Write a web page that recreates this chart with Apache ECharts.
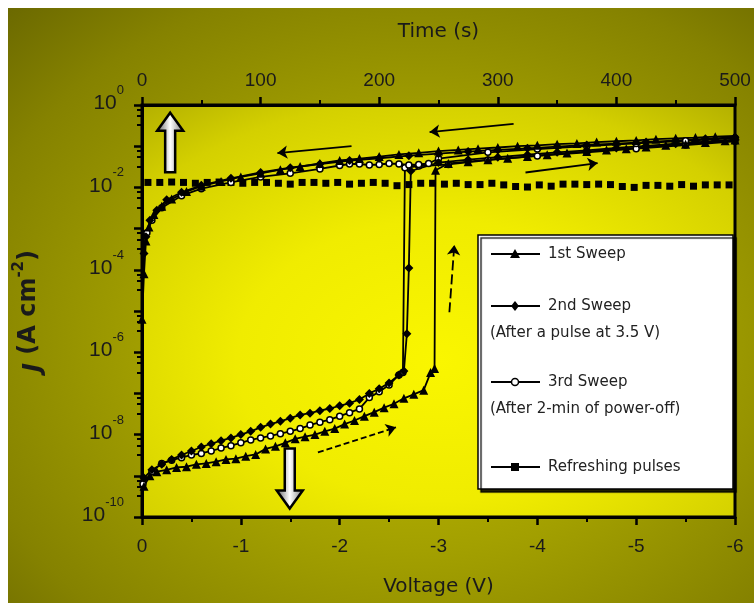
<!DOCTYPE html>
<html>
<head>
<meta charset="utf-8">
<script src="https://cdn.jsdelivr.net/npm/echarts@6/dist/echarts.min.js"></script>
<style>
html,body{margin:0;padding:0;background:#fff;}
#main{width:754px;height:603px;}
</style>
</head>
<body>
<div id="main"></div>
<script>
// J-V sweeps, [voltage (V), J (A cm^-2)]
var sweep1 = [
  [-0.02,5.6e-10],[-0.08,1.0e-9],[-0.15,1.26e-9],[-0.25,1.4e-9],[-0.35,1.6e-9],[-0.45,1.66e-9],
  [-0.55,1.9e-9],[-0.65,2.0e-9],[-0.75,2.2e-9],[-0.85,2.5e-9],[-0.95,2.6e-9],[-1.05,3.0e-9],
  [-1.15,3.3e-9],[-1.25,4.5e-9],[-1.35,5.2e-9],[-1.45,6.3e-9],[-1.55,7.9e-9],[-1.65,8.9e-9],
  [-1.75,1.0e-8],[-1.85,1.2e-8],[-1.95,1.4e-8],[-2.05,1.8e-8],[-2.15,2.2e-8],[-2.25,2.8e-8],
  [-2.35,3.5e-8],[-2.45,4.5e-8],[-2.55,5.6e-8],[-2.65,7.6e-8],[-2.75,9.5e-8],[-2.85,1.2e-7],
  [-2.92,3.2e-7],[-2.96,4.0e-7],[-2.97,2.6e-2],
  [-3.1,3.8e-2],[-3.3,4.2e-2],[-3.5,4.7e-2],[-3.7,5.1e-2],[-3.9,5.6e-2],[-4.1,6.2e-2],
  [-4.3,6.8e-2],[-4.5,7.4e-2],[-4.7,8.1e-2],[-4.9,8.7e-2],[-5.1,9.5e-2],[-5.3,0.105],
  [-5.5,0.112],[-5.7,0.123],[-5.9,0.135],[-6.0,0.141],
  [-6.0,0.178],[-5.8,0.170],[-5.6,0.162],[-5.4,0.155],[-5.2,0.148],[-5.0,0.138],[-4.8,0.132],
  [-4.6,0.126],[-4.4,0.117],[-4.2,0.112],[-4.0,0.105],[-3.8,0.100],[-3.6,0.093],[-3.4,0.087],
  [-3.2,0.081],[-3.0,0.076],[-2.8,0.069],[-2.6,0.063],[-2.4,0.056],[-2.2,0.050],[-2.0,0.045],
  [-1.8,0.038],[-1.6,0.032],[-1.4,0.027],[-1.2,0.022],[-1.0,0.018],[-0.8,0.014],[-0.6,0.0107],
  [-0.45,0.0079],[-0.3,0.0052],[-0.2,0.0035],[-0.12,0.0022],[-0.07,0.0011],[-0.04,5.0e-4],
  [-0.02,8.0e-5],[0,6.3e-6]
];
var sweep2 = [
  [-0.02,8.9e-10],[-0.1,1.4e-9],[-0.2,1.9e-9],[-0.3,2.5e-9],[-0.4,3.2e-9],[-0.5,4.0e-9],
  [-0.6,5.0e-9],[-0.7,6.0e-9],[-0.8,7.1e-9],[-0.9,8.3e-9],[-1.0,1.0e-8],[-1.1,1.2e-8],
  [-1.2,1.5e-8],[-1.3,1.8e-8],[-1.4,2.1e-8],[-1.5,2.5e-8],[-1.6,3.0e-8],[-1.7,3.3e-8],
  [-1.8,3.8e-8],[-1.9,4.3e-8],[-2.0,5.0e-8],[-2.1,5.8e-8],[-2.2,7.1e-8],[-2.3,1.0e-7],
  [-2.4,1.3e-7],[-2.5,1.8e-7],[-2.6,2.8e-7],[-2.65,3.5e-7],
  [-2.68,2.8e-6],[-2.7,1.1e-4],[-2.72,2.5e-2],
  [-3.0,4.0e-2],[-3.3,4.7e-2],[-3.6,5.4e-2],[-3.9,6.2e-2],[-4.2,7.1e-2],[-4.5,7.9e-2],
  [-4.8,9.1e-2],[-5.1,0.102],[-5.4,0.115],[-5.7,0.129],[-6.0,0.145],
  [-6.0,0.166],[-5.7,0.151],[-5.4,0.138],[-5.1,0.126],[-4.8,0.115],[-4.5,0.107],[-4.2,0.098],
  [-3.9,0.089],[-3.6,0.081],[-3.3,0.074],[-3.0,0.066],[-2.7,0.059],[-2.4,0.051],[-2.1,0.045],
  [-1.8,0.037],[-1.5,0.030],[-1.2,0.023],[-0.9,0.0166],[-0.6,0.0112],[-0.4,0.0076],
  [-0.25,0.0050],[-0.15,0.0028],[-0.08,0.0016],[-0.04,6.3e-4],[-0.02,2.5e-4]
];
var sweep3 = [
  [-0.01,6.3e-10],[-0.1,1.26e-9],[-0.2,2.0e-9],[-0.3,2.4e-9],[-0.4,2.75e-9],[-0.5,3.2e-9],
  [-0.6,3.5e-9],[-0.7,4.0e-9],[-0.8,4.7e-9],[-0.9,5.4e-9],[-1.0,6.3e-9],[-1.1,7.4e-9],
  [-1.2,8.3e-9],[-1.3,9.3e-9],[-1.4,1.05e-8],[-1.5,1.2e-8],[-1.6,1.4e-8],[-1.7,1.7e-8],
  [-1.8,2.0e-8],[-1.9,2.3e-8],[-2.0,2.8e-8],[-2.1,3.4e-8],[-2.2,4.2e-8],[-2.3,7.9e-8],
  [-2.4,1.1e-7],[-2.5,1.6e-7],[-2.6,2.8e-7],[-2.64,3.2e-7],[-2.66,3.0e-2],
  [-2.8,3.3e-2],[-3.1,3.6e-2],[-3.5,4.6e-2],[-4.0,5.8e-2],[-4.5,7.1e-2],[-5.0,8.7e-2],
  [-5.5,0.107],[-6.0,0.132],
  [-6.0,0.158],[-5.5,0.135],[-5.0,0.117],[-4.5,0.100],[-4.0,0.085],[-3.5,0.071],[-3.0,0.050],
  [-2.9,0.038],[-2.8,0.036],[-2.7,0.035],[-2.6,0.037],[-2.5,0.038],[-2.4,0.036],[-2.3,0.035],
  [-2.2,0.037],[-2.1,0.037],[-2.0,0.034],[-1.8,0.028],[-1.5,0.022],[-1.2,0.018],[-0.9,0.0132],
  [-0.6,0.0093],[-0.4,0.0063],[-0.2,0.0032],[-0.1,0.0016],[-0.05,7.9e-4]
];
// refreshing pulses vs time
var pulseTime = [5,15,25,35,45,55,65,75,85,95,105,115,125,135,145,155,165,175,185,195,
  205,215,225,235,245,255,265,275,285,295,305,315,325,335,345,355,365,375,385,395,
  405,415,425,435,445,455,465,475,485,495];
var pulseJ = [0.0132,0.0132,0.0135,0.0132,0.0126,0.0132,0.0135,0.0132,0.0126,0.0132,
  0.0132,0.0126,0.0120,0.0132,0.0132,0.0126,0.0132,0.0120,0.0126,0.0132,
  0.0126,0.0110,0.0117,0.0126,0.0126,0.0120,0.0126,0.0117,0.0117,0.0126,
  0.0115,0.0105,0.0102,0.0115,0.0107,0.0120,0.0120,0.0117,0.0120,0.0117,
  0.0105,0.0100,0.0112,0.0112,0.0107,0.0117,0.0107,0.0115,0.0115,0.0115];
var shownExponents = [0,-2,-4,-6,-8,-10];

var legendNames = ['1st Sweep','2nd Sweep','3rd Sweep','Refreshing pulses'];
var legendNotes = ['', '(After a pulse at 3.5 V)', '(After 2-min of power-off)', ''];

var FONT = 'Liberation Sans';
var TXT = '#1a1a1a';
var chart = echarts.init(document.getElementById('main'));

var option = {
  animation: false,
  backgroundColor: '#fff',
  grid: {left:142, right:19, top:105, bottom:86, show:true, borderColor:'#000', borderWidth:3, backgroundColor:'transparent'},
  xAxis: [{
    type:'value', min:-6, max:0, interval:1, inverse:true, position:'bottom',
    name:'Voltage (V)', nameLocation:'middle', nameGap:60,
    nameTextStyle:{fontFamily:'DejaVu Sans', fontSize:20, color:TXT},
    axisLine:{onZero:false, lineStyle:{color:'#000', width:3}},
    axisTick:{length:8, lineStyle:{color:'#000', width:2.5}},
    minorTick:{show:true, splitNumber:2, length:5, lineStyle:{color:'#000', width:2}},
    axisLabel:{margin:20, fontFamily:FONT, fontSize:19, color:TXT},
    splitLine:{show:false}
  }, {
    type:'value', min:0, max:500, interval:100, position:'top',
    name:'Time (s)', nameLocation:'middle', nameGap:63,
    nameTextStyle:{fontFamily:'DejaVu Sans', fontSize:20, color:TXT},
    axisLine:{onZero:false, lineStyle:{color:'#000', width:3}},
    axisTick:{length:8, lineStyle:{color:'#000', width:2.5}},
    minorTick:{show:true, splitNumber:2, length:5, lineStyle:{color:'#000', width:2}},
    axisLabel:{margin:15, fontFamily:FONT, fontSize:19, color:TXT},
    splitLine:{show:false}
  }],
  yAxis: {
    type:'log', logBase:10, min:1e-10, max:1, interval:1,
    name:'{i|J} (A cm{s|-2})', nameLocation:'middle', nameGap:96, nameRotate:90,
    nameTextStyle:{fontFamily:'DejaVu Sans', fontWeight:'bold', fontSize:24, color:TXT,
      rich:{
        i:{fontFamily:'DejaVu Sans', fontStyle:'italic', fontWeight:'bold', fontSize:24, color:TXT, verticalAlign:'bottom', lineHeight:34},
        s:{fontFamily:'DejaVu Sans', fontWeight:'bold', fontSize:15, color:TXT, verticalAlign:'top', lineHeight:34}
      }},
    axisLine:{onZero:false, lineStyle:{color:'#000', width:3}},
    axisTick:{length:8, lineStyle:{color:'#000', width:2.5}},
    minorTick:{show:true, splitNumber:4, length:5, lineStyle:{color:'#000', width:2}},
    splitLine:{show:false},
    axisLabel:{
      margin:18, padding:[0,0,12,0],
      formatter:function(v){
        var e = Math.round(Math.log10(v));
        if (shownExponents.indexOf(e) < 0) return '';
        return '{b|10}{s|' + e + '}';
      },
      rich:{
        b:{fontFamily:FONT, fontSize:21, color:TXT, verticalAlign:'bottom', lineHeight:30},
        s:{fontFamily:FONT, fontSize:13, color:TXT, verticalAlign:'top', lineHeight:30}
      }
    }
  },
  series: [{
    name:legendNames[3], type:'line', xAxisIndex:1, yAxisIndex:0,
    data: pulseTime.map(function(t,i){ return [t, pulseJ[i]]; }),
    symbol:'rect', symbolSize:7, showAllSymbol:true,
    lineStyle:{opacity:0}, itemStyle:{color:'#000'}
  }, {
    name:legendNames[2], type:'line', data:sweep3,
    symbol:'circle', symbolSize:6, showAllSymbol:true,
    lineStyle:{color:'#000', width:1.8},
    itemStyle:{color:'#fff', borderColor:'#000', borderWidth:1.5}
  }, {
    name:legendNames[1], type:'line', data:sweep2,
    symbol:'diamond', symbolSize:9, showAllSymbol:true,
    lineStyle:{color:'#000', width:1.8}, itemStyle:{color:'#000'}
  }, {
    name:legendNames[0], type:'line', data:sweep1,
    symbol:'triangle', symbolSize:9, showAllSymbol:true,
    lineStyle:{color:'#000', width:1.8}, itemStyle:{color:'#000'},
    markLine:{
      silent:true, symbol:['none','arrow'], symbolSize:10,
      label:{show:false},
      lineStyle:{color:'#000', width:1.8, type:'solid'},
      data:[
        [{coord:[-2.12,0.10]},{coord:[-1.37,0.068]}],
        [{coord:[-3.76,0.35]},{coord:[-2.91,0.22]}],
        [{coord:[-3.88,0.023]},{coord:[-4.61,0.039]}],
        [{coord:[-1.78,3.7e-9], lineStyle:{type:[6,3]}},{coord:[-2.57,1.5e-8]}],
        [{coord:[-3.11,9.3e-6], lineStyle:{type:[10,4]}},{coord:[-3.16,4.0e-4]}]
      ]
    }
  }]
};
chart.setOption(option);

function px(v, j){ return chart.convertToPixel({xAxisIndex:0, yAxisIndex:0}, [v, j]); }

function blockArrow(cx, yFrom, yTip){
  var dir = yTip < yFrom ? -1 : 1;
  var hl = 18, hw = 13, sw = 5;
  var yb = yTip - dir*hl;
  return {
    type:'polygon', z:60, silent:true,
    shape:{points:[[cx,yTip],[cx+hw,yb],[cx+sw,yb],[cx+sw,yFrom],[cx-sw,yFrom],[cx-sw,yb],[cx-hw,yb]]},
    style:{
      fill:new echarts.graphic.LinearGradient(0,0,1,0,[
        {offset:0,color:'#555'},{offset:0.5,color:'#fff'},{offset:1,color:'#777'}]),
      stroke:'#000', lineWidth:2.5
    }
  };
}

var W = 754, H = 603;
var gx = 142, gy = 105, gw = W - 142 - 19, gh = H - 105 - 86;
var graphics = [];
// page background (elliptic radial glow)
graphics.push({
  type:'rect', z:-100, silent:true, x:8, y:8, scaleX:(W-8)/(H-8),
  shape:{x:0, y:0, width:H-8, height:H-8},
  style:{fill:new echarts.graphic.RadialGradient(0.55,0.56,0.78,[
    {offset:0,color:'#c4c000'},{offset:0.45,color:'#a3a000'},{offset:0.8,color:'#858200'},{offset:1,color:'#6c6a00'}])}
});
// plot-area glow
graphics.push({
  type:'rect', z:-50, silent:true, x:gx, y:gy, scaleX:gw/gh,
  shape:{x:0, y:0, width:gh, height:gh},
  style:{fill:new echarts.graphic.RadialGradient(0.5,0.62,0.85,[
    {offset:0,color:'#faf600'},{offset:0.4,color:'#f0ec00'},{offset:0.75,color:'#d4d000'},{offset:1,color:'#a8a500'}])}
});

var upA = px(-0.285, 0.0234), upT = px(-0.285, 0.65);
graphics.push(blockArrow(upA[0], upA[1], upT[1]));
var dnA = px(-1.495, 4.6e-9), dnT = px(-1.495, 1.6e-10);
graphics.push(blockArrow(dnA[0], dnA[1], dnT[1]));

// legend box
var lx = 478, ly = 235, lw = 255, lh = 254;
graphics.push({
  type:'rect', z:100, silent:true,
  shape:{x:lx, y:ly, width:lw, height:lh},
  style:{fill:'#fff', stroke:'#000', lineWidth:1.5, shadowColor:'rgba(0,0,0,0.85)', shadowBlur:1, shadowOffsetX:3, shadowOffsetY:3}
});
var rowY = [254, 306, 382, 467];
var noteY = [0, 333, 409, 0];
var LF = '15px "DejaVu Sans"';
rowY.forEach(function(y, i){
  graphics.push({type:'line', z:101, silent:true, shape:{x1:491, y1:y, x2:540, y2:y}, style:{stroke:'#000', lineWidth:2}});
  var c = 515, mark;
  if (i === 0) mark = {type:'polygon', shape:{points:[[c,y-5],[c+5,y+4],[c-5,y+4]]}, style:{fill:'#000'}};
  if (i === 1) mark = {type:'polygon', shape:{points:[[c,y-5],[c+4,y],[c,y+5],[c-4,y]]}, style:{fill:'#000'}};
  if (i === 2) mark = {type:'circle', shape:{cx:c, cy:y, r:3.5}, style:{fill:'#fff', stroke:'#000', lineWidth:1.5}};
  if (i === 3) mark = {type:'rect', shape:{x:c-4, y:y-4, width:8, height:8}, style:{fill:'#000'}};
  mark.z = 102; mark.silent = true;
  graphics.push(mark);
  graphics.push({type:'text', z:102, silent:true, x:548, y:y,
    style:{text:legendNames[i], font:LF, fill:'#222', verticalAlign:'middle', align:'left'}});
  if (legendNotes[i]) {
    graphics.push({type:'text', z:102, silent:true, x:490, y:noteY[i],
      style:{text:legendNotes[i], font:LF, fill:'#222', verticalAlign:'middle', align:'left'}});
  }
});

chart.setOption({graphic:{elements:graphics}});
</script>
</body>
</html>
